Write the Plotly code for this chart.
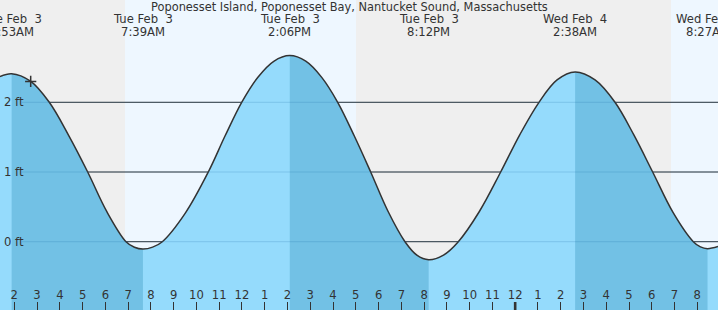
import plotly.graph_objects as go

# ---------------- data (hours since midnight, Tue Feb 3) ----------------
view_start = 1.372
view_end = 32.909

curve_t = [1.372, 1.883, 2.71, 3.537, 4.38, 5.224, 6.065, 6.906, 7.278, 7.65,
           8.076, 8.501, 9.511, 10.521, 11.255, 11.988, 12.692, 13.396, 14.1,
           14.802, 15.503, 16.205, 16.93, 17.654, 18.408, 19.161, 19.681, 20.2,
           20.852, 21.503, 22.434, 23.364, 24.206, 25.047, 25.84, 26.633,
           27.509, 28.385, 29.213, 30.04, 30.933, 31.825, 32.138, 32.45, 32.909]
curve_ft = [2.368, 2.41, 2.303, 2.0, 1.53, 1.0, 0.43, 0.0, -0.079, -0.105,
            -0.078, 0.0, 0.41, 1.0, 1.516, 2.0, 2.357, 2.589, 2.67,
            2.590, 2.358, 2.0, 1.520, 1.0, 0.44, 0.0, -0.192, -0.258,
            -0.192, 0.0, 0.437, 1.0, 1.537, 2.0, 2.321, 2.435,
            2.321, 2.0, 1.532, 1.0, 0.42, 0.0, -0.075, -0.10, -0.07]

extreme_t = [1.883, 7.65, 14.1, 20.2, 26.633, 32.45]
extreme_date = ["Tue Feb\u00a0 3", "Tue Feb\u00a0 3", "Tue Feb\u00a0 3",
                "Tue Feb\u00a0 3", "Wed Feb\u00a0 4", "Wed Feb\u00a0 4"]
extreme_time = ["1:53AM", "7:39AM", "2:06PM", "8:12PM", "2:38AM", "8:27AM"]

falling_start = [1.883, 14.1, 26.633]
falling_end = [7.65, 20.2, 32.45]

day_start = [6.862, 30.844]
day_end = [17.009, 33.5]

now_t = [2.72]
now_ft = [2.30]

grid_ft = [0, 1, 2]
grid_labels = ["0 ft", "1 ft", "2 ft"]

tick_hours = [2, 3, 4, 5, 6, 7, 8, 9, 10, 11, 12, 13, 14, 15, 16, 17, 18, 19,
              20, 21, 22, 23, 24, 25, 26, 27, 28, 29, 30, 31, 32]
tick_labels = ["2", "3", "4", "5", "6", "7", "8", "9", "10", "11", "12", "1",
               "2", "3", "4", "5", "6", "7", "8", "9", "10", "11", "12", "1",
               "2", "3", "4", "5", "6", "7", "8"]
midnight = [24]

title = "Poponesset Island, Poponesset Bay, Nantucket Sound, Massachusetts"

y_range = [-0.98, 3.468]

# ---------------- styles ----------------
W, H = 718, 310
FONT = "DejaVu Sans"
FS = 11.6
FS_TITLE = 11.4
TXT = "#333333"
NIGHT = "#efefef"
DAY = "#eef7ff"
LIGHT = "#95dbfc"
DARK = "#72c1e5"
LINE = "#333333"
BASE = -5

fig = go.Figure()

# light fill across the whole view (subplot xy)
fig.add_trace(go.Scatter(x=[view_start - 1, view_end + 1], y=[BASE, BASE], mode="lines",
                         line=dict(width=0), hoverinfo="skip", showlegend=False,
                         xaxis="x", yaxis="y"))
fig.add_trace(go.Scatter(x=curve_t, y=curve_ft, mode="lines", line=dict(width=0, shape="spline"),
                         fill="tonexty", fillcolor=LIGHT, hoverinfo="skip", showlegend=False,
                         xaxis="x", yaxis="y"))

# darker fill on falling tide, clipped by sub-plots spanning each falling interval
span = view_end - view_start
layout_axes = {}
for i, (a, b) in enumerate(zip(falling_start, falling_end)):
    ax = "x%d" % (i + 2)
    d0 = max(0.0, (a - view_start) / span)
    d1 = min(1.0, (b - view_start) / span)
    layout_axes["xaxis%d" % (i + 2)] = dict(domain=[d0, d1], range=[a, b], anchor="y",
                                             visible=False, fixedrange=True)
    fig.add_trace(go.Scatter(x=[view_start - 1, view_end + 1], y=[BASE, BASE], mode="lines",
                             line=dict(width=0), hoverinfo="skip", showlegend=False,
                             xaxis=ax, yaxis="y"))
    fig.add_trace(go.Scatter(x=curve_t, y=curve_ft, mode="lines",
                             line=dict(width=0, shape="spline"),
                             fill="tonexty", fillcolor=DARK, hoverinfo="skip", showlegend=False,
                             xaxis=ax, yaxis="y"))

top_ax = "x%d" % (len(falling_start) + 2)
top_key = "xaxis%d" % (len(falling_start) + 2)

# tide curve line and "now" marker on the top-most subplot
fig.add_trace(go.Scatter(x=curve_t, y=curve_ft, mode="lines",
                         line=dict(color=LINE, width=1.5, shape="spline"),
                         hoverinfo="skip", showlegend=False, xaxis=top_ax, yaxis="y"))
fig.add_trace(go.Scatter(x=now_t, y=now_ft, mode="markers",
                         marker=dict(symbol="cross-thin", size=8,
                                     line=dict(color=LINE, width=1.5)),
                         hoverinfo="skip", showlegend=False, xaxis=top_ax, yaxis="y"))

shapes = []
for a, b in zip(day_start, day_end):
    shapes.append(dict(type="rect", xref="x", yref="paper", x0=a, x1=b, y0=0, y1=1,
                       fillcolor=DAY, line=dict(width=0), layer="below"))
for v in grid_ft:
    shapes.append(dict(type="line", xref="paper", yref="y", x0=22 / W, x1=1, y0=v, y1=v,
                       line=dict(color="#333333", width=1), layer="below"))
for v in grid_ft:
    shapes.append(dict(type="line", xref="paper", yref="y", x0=22 / W, x1=1, y0=v, y1=v,
                       line=dict(color="rgba(20,100,160,0.2)", width=1), layer="above"))
for m in midnight:
    shapes.append(dict(type="line", xref="x", yref="paper", x0=m, x1=m, y0=0, y1=8 / H,
                       line=dict(color="#333333", width=2.6), layer="above"))

annotations = []
annotations.append(dict(text=title, xref="paper", yref="paper", x=349 / W, y=1 - 7.5 / H,
                        xanchor="center", yanchor="middle", showarrow=False,
                        font=dict(family=FONT, size=FS_TITLE, color=TXT)))
for t, d, tm in zip(extreme_t, extreme_date, extreme_time):
    annotations.append(dict(text=d, xref="x", yref="paper", x=t, y=1 - 19 / H,
                            xanchor="center", yanchor="middle", showarrow=False,
                            font=dict(family=FONT, size=FS, color=TXT)))
    annotations.append(dict(text=tm, xref="x", yref="paper", x=t, y=1 - 32 / H,
                            xanchor="center", yanchor="middle", showarrow=False,
                            font=dict(family=FONT, size=FS, color=TXT)))
for v, lab in zip(grid_ft, grid_labels):
    annotations.append(dict(text=lab, xref="paper", yref="y", x=2 / W, y=v,
                            xanchor="left", yanchor="middle", showarrow=False,
                            font=dict(family=FONT, size=FS, color=TXT)))

layout = dict(
    width=W, height=H,
    margin=dict(l=0, r=0, t=0, b=0, pad=0),
    paper_bgcolor=NIGHT,
    plot_bgcolor="rgba(0,0,0,0)",
    showlegend=False,
    xaxis=dict(domain=[0, 1], range=[view_start, view_end], anchor="y",
               visible=False, fixedrange=True),
    yaxis=dict(domain=[0, 1], range=y_range, anchor="x", visible=False, fixedrange=True),
    shapes=shapes,
    annotations=annotations,
)
layout.update(layout_axes)
layout[top_key] = dict(domain=[0, 1], range=[view_start, view_end], anchor="y",
                       showgrid=False, zeroline=False, showline=False,
                       ticks="inside", ticklen=8, tickwidth=1, tickcolor="#333333",
                       tickmode="array", tickvals=tick_hours, ticktext=tick_labels,
                       ticklabelposition="inside", automargin=False,
                       tickfont=dict(family=FONT, size=FS, color=TXT), fixedrange=True)
fig.update_layout(**layout)

fig.write_html("out.html", config=dict(displayModeBar=False))
